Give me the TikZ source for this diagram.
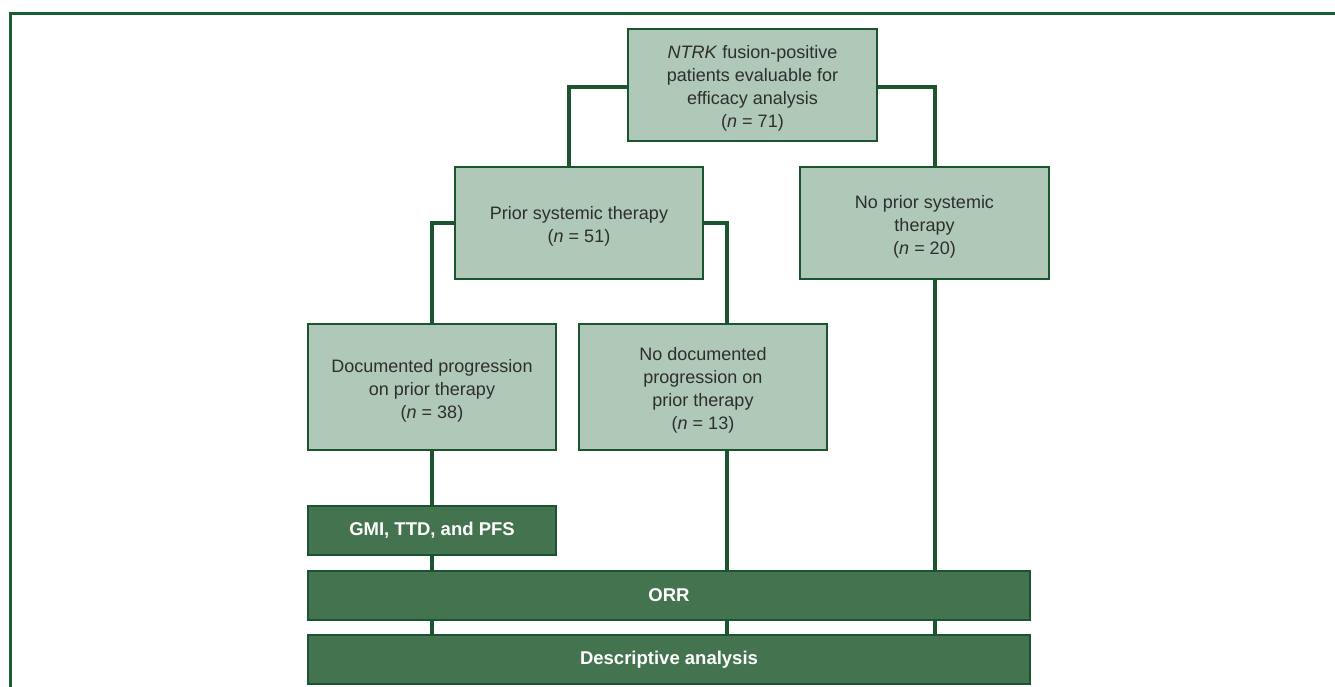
\documentclass[tikz,border=0pt]{standalone}
\usepackage{fontspec}
\setmainfont{Liberation Sans}
\definecolor{frame}{HTML}{1B5E36}
\definecolor{line}{HTML}{1A5530}
\definecolor{light}{HTML}{B0C8B8}
\definecolor{dark}{HTML}{44744F}
\definecolor{txt}{HTML}{2E2E2E}
\newcommand\lowtext[1]{\raisebox{-3.5pt}[\height][\depth]{\begin{tabular}{@{}c@{}}#1\end{tabular}}}
\tikzset{
  lbox/.style={draw=line, line width=1.3pt, fill=light, text=txt, inner sep=0pt,
    font=\fontsize{18}{23}\selectfont},
  dbox/.style={draw=line, line width=1.5pt, fill=dark, text=white, align=center, inner sep=0pt,
    font=\fontsize{18.5}{22}\selectfont\bfseries},
  conn/.style={draw=line, line width=3.2pt}
}
\begin{document}
\begin{tikzpicture}[x=1pt,y=-1pt]
\useasboundingbox (0,0) rectangle (1335,687);
\draw[frame, line width=3pt] (10.5,687) -- (10.5,13.5) -- (1335,13.5);
% boxes
\node[lbox, minimum width=249pt, minimum height=112pt] (top) at (752.5,85) {\lowtext{\textit{NTRK} fusion-positive\\patients evaluable for\\efficacy analysis\\(\textit{n} = 71)}};
\node[lbox, minimum width=248pt, minimum height=112pt] (prior) at (579,223) {\lowtext{Prior systemic therapy\\(\textit{n} = 51)}};
\node[lbox, minimum width=249pt, minimum height=112pt] (noprior) at (924.5,223) {\lowtext{No prior systemic\\therapy\\(\textit{n} = 20)}};
\node[lbox, minimum width=248pt, minimum height=126pt] (doc) at (432,387) {\lowtext{Documented progression\\on prior therapy\\(\textit{n} = 38)}};
\node[lbox, minimum width=248pt, minimum height=126pt] (nodoc) at (703,387) {\lowtext{No documented\\progression on\\prior therapy\\(\textit{n} = 13)}};
\node[dbox, minimum width=248pt, minimum height=49pt] (gmi) at (432,530.5) {GMI, TTD, and PFS};
\node[dbox, minimum width=722pt, minimum height=49pt] (orr) at (669,595.5) {ORR};
\node[dbox, minimum width=722pt, minimum height=49pt] (desc) at (669,659.5) {Descriptive analysis};
% connectors
\coordinate (c1) at (569,87);
\coordinate (c2) at (935,87);
\coordinate (c3) at (432,223);
\coordinate (c4) at (727,223);
\draw[conn] (top.west |- c1) -- (c1) -- (c1 |- prior.north);
\draw[conn] (top.east |- c2) -- (c2) -- (c2 |- noprior.north);
\draw[conn] (prior.west |- c3) -- (c3) -- (c3 |- doc.north);
\draw[conn] (prior.east |- c4) -- (c4) -- (c4 |- nodoc.north);
\draw[conn] (doc.south) -- (gmi.north);
\draw[conn] (gmi.south) -- (gmi.south |- orr.north);
\draw[conn] (c3 |- orr.south) -- (c3 |- desc.north);
\draw[conn] (c4 |- nodoc.south) -- (c4 |- orr.north);
\draw[conn] (c4 |- orr.south) -- (c4 |- desc.north);
\draw[conn] (c2 |- noprior.south) -- (c2 |- orr.north);
\draw[conn] (c2 |- orr.south) -- (c2 |- desc.north);
\end{tikzpicture}
\end{document}
